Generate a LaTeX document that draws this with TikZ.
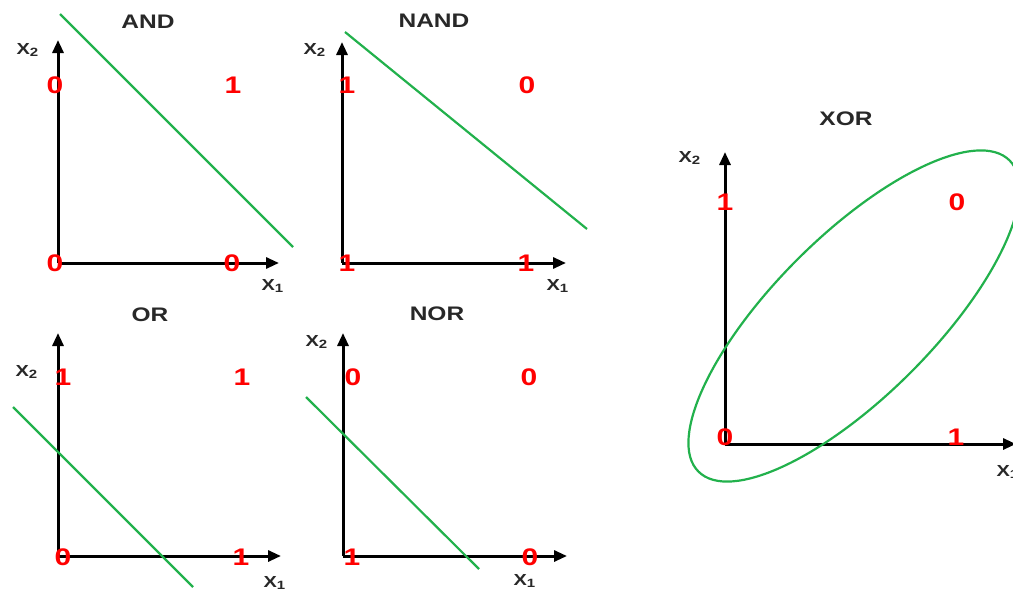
\documentclass[tikz,border=0pt]{standalone}
\usepackage{fontspec}
\setmainfont{Liberation Sans}
\usetikzlibrary{arrows.meta,shapes.geometric}

\definecolor{sepgreen}{RGB}{34,177,76}
\definecolor{bitred}{RGB}{255,0,0}
\definecolor{labgray}{RGB}{40,40,40}

\begin{document}
\begin{tikzpicture}[
						x=0.5pt, y=-0.5pt,
						axis/.style={line width=1.5pt, -{Triangle[length=6.5pt,width=5.5pt]}},
						sepline/.style={line width=1.1pt, sepgreen},
						gatetitle/.style={font=\fontsize{9.8}{11}\selectfont\bfseries, text=labgray, xscale=1.25},
						axislabel/.style={font=\fontsize{8}{10}\selectfont\bfseries, text=labgray, inner sep=0pt, xscale=1.25},
						bit/.style={font=\fontsize{12}{13}\selectfont\bfseries, text=bitred, inner sep=0pt, xscale=1.25},
						line cap=butt,
						line join=miter
						]
						\useasboundingbox (0,0) rectangle (1013,594);
						
						% AND
						\coordinate (andO) at (58,263);
						\coordinate (andY) at (58,40);
						\coordinate (andX) at (279,263);
						\draw[axis] (andO) -- (andY);
						\draw[axis] (andO) -- (andX);
						\node[gatetitle] (andT) at (148,22) {AND};
						\node[axislabel] (andXtwo) at (28,50) {X\textsubscript{2}};
						\node[axislabel] (andXone) at (273,286) {X\textsubscript{1}};
						\node[bit] (and01) at (55,85) {0};
						\node[bit] (and11) at (233,85) {1};
						\node[bit] (and00) at (55,263) {0};
						\node[bit] (and10) at (232,263) {0};
						\coordinate (andA) at (60,14);
						\coordinate (andB) at (293,247);
						\draw[sepline] (andA) -- (andB);
						
						% NAND
						\coordinate (nandO) at (342,263);
						\coordinate (nandY) at (342,42);
						\coordinate (nandX) at (566,263);
						\draw[axis] (nandO) -- (nandY);
						\draw[axis] (nandO) -- (nandX);
						\node[gatetitle] (nandT) at (434,21) {NAND};
						\node[axislabel] (nandXtwo) at (315,50) {X\textsubscript{2}};
						\node[axislabel] (nandXone) at (558,286) {X\textsubscript{1}};
						\node[bit] (nand01) at (347,85) {1};
						\node[bit] (nand11) at (527,85) {0};
						\node[bit] (nand00) at (347,263) {1};
						\node[bit] (nand10) at (526,263) {1};
						\coordinate (nandA) at (345,32);
						\coordinate (nandB) at (587,229);
						\draw[sepline] (nandA) -- (nandB);
						
						% OR
						\coordinate (orO) at (58,556);
						\coordinate (orY) at (58,333);
						\coordinate (orX) at (281,556);
						\draw[axis] (orO) -- (orY);
						\draw[axis] (orO) -- (orX);
						\node[gatetitle] (orT) at (150,315) {OR};
						\node[axislabel] (orXtwo) at (27,372) {X\textsubscript{2}};
						\node[axislabel] (orXone) at (275,583) {X\textsubscript{1}};
						\node[bit] (or01) at (63,377) {1};
						\node[bit] (or11) at (242,377) {1};
						\node[bit] (or00) at (63,557) {0};
						\node[bit] (or10) at (241,557) {1};
						\coordinate (orA) at (13,407);
						\coordinate (orB) at (193,587);
						\draw[sepline] (orA) -- (orB);
						
						% NOR
						\coordinate (norO) at (343,556);
						\coordinate (norY) at (343,333);
						\coordinate (norX) at (567,556);
						\draw[axis] (norO) -- (norY);
						\draw[axis] (norO) -- (norX);
						\node[gatetitle] (norT) at (437,314) {NOR};
						\node[axislabel] (norXtwo) at (317,342) {X\textsubscript{2}};
						\node[axislabel] (norXone) at (525,581) {X\textsubscript{1}};
						\node[bit] (nor01) at (353,377) {0};
						\node[bit] (nor11) at (529,377) {0};
						\node[bit] (nor00) at (352,557) {1};
						\node[bit] (nor10) at (530,557) {0};
						\coordinate (norA) at (306,397);
						\coordinate (norB) at (479,569);
						\draw[sepline] (norA) -- (norB);
						
						% XOR
						\coordinate (xorO) at (725,444);
						\coordinate (xorY) at (725,152);
						\coordinate (xorX) at (1016,444);
						\draw[axis] (xorO) -- (xorY);
						\draw[axis] (xorO) -- (xorX);
						\node[gatetitle] (xorT) at (846,119) {XOR};
						\node[axislabel] (xorXtwo) at (690,158) {X\textsubscript{2}};
						\node[axislabel, anchor=west] (xorXone) at (996,472) {X\textsubscript{1}};
						\node[bit] (xor01) at (725,202) {1};
						\node[bit] (xor11) at (957,202) {0};
						\node[bit] (xor00) at (725,437) {0};
						\node[bit] (xor10) at (956,437) {1};
						\node[ellipse, draw=sepgreen, line width=1.1pt, inner sep=0pt,
						minimum width=220pt, minimum height=80pt, rotate=45] (xorE) at (854,316) {};
						
					\end{tikzpicture}
\end{document}
